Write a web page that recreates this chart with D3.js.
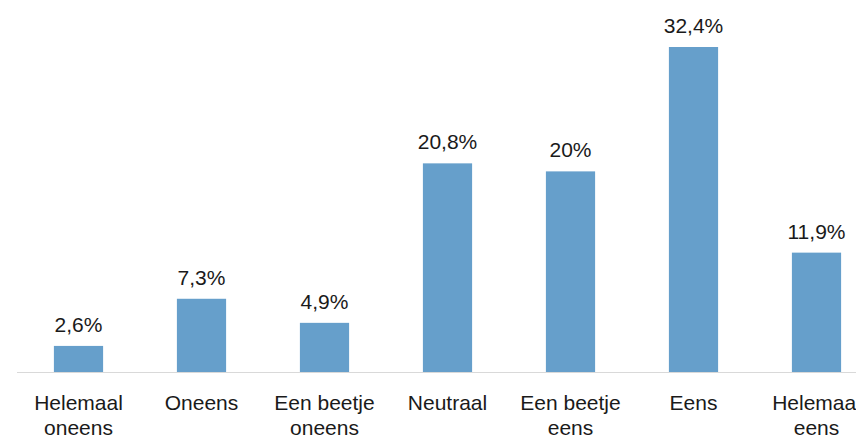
<!DOCTYPE html>
<html>
<head>
<meta charset="utf-8">
<script src="https://cdn.jsdelivr.net/npm/d3@7"></script>
<style>
  body { margin: 0; background: #fff; }
  svg { display: block; font-family: "Liberation Sans", Arial, sans-serif; }
</style>
</head>
<body>
<div class="chart"></div>
<script>
const categories = [
  ["Helemaal", "oneens"],
  ["Oneens"],
  ["Een beetje", "oneens"],
  ["Neutraal"],
  ["Een beetje", "eens"],
  ["Eens"],
  ["Helemaal", "eens"]
];
const values = [2.6, 7.3, 4.9, 20.8, 20, 32.4, 11.9];
const valueLabels = ["2,6%", "7,3%", "4,9%", "20,8%", "20%", "32,4%", "11,9%"];

const width = 856;
const height = 438;
const baseline = 372;

const svg = d3.select(".chart")
  .append("svg")
  .attr("width", width)
  .attr("height", height);

const x = d3.scaleBand()
  .domain(d3.range(values.length))
  .range([17, 878])
  .paddingInner(0.6)
  .paddingOuter(0.3);

const y = d3.scaleLinear()
  .domain([0, 32.4])
  .range([baseline, 47]);

svg.selectAll("rect.bar")
  .data(values)
  .enter()
  .append("rect")
  .attr("class", "bar")
  .attr("x", (d, i) => x(i))
  .attr("y", d => y(d))
  .attr("width", x.bandwidth())
  .attr("height", d => y(0) - y(d))
  .attr("fill", "#669fcb");

// baseline
svg.append("line")
  .attr("x1", 17)
  .attr("x2", width)
  .attr("y1", baseline + 0.5)
  .attr("y2", baseline + 0.5)
  .attr("stroke", "#d9d9d9")
  .attr("stroke-width", 1);

svg.selectAll("text.value")
  .data(values)
  .enter()
  .append("text")
  .attr("class", "value")
  .attr("x", (d, i) => x(i) + x.bandwidth() / 2)
  .attr("y", d => y(d) - 14)
  .attr("text-anchor", "middle")
  .attr("font-size", 21)
  .attr("fill", "#1a1a1a")
  .text((d, i) => valueLabels[i]);

const cat = svg.selectAll("text.cat")
  .data(categories)
  .enter()
  .append("text")
  .attr("class", "cat")
  .attr("text-anchor", "middle")
  .attr("font-size", 21)
  .attr("fill", "#1a1a1a");

cat.selectAll("tspan")
  .data((d, i) => d.map(t => ({ t, i })))
  .enter()
  .append("tspan")
  .attr("x", d => x(d.i) + x.bandwidth() / 2)
  .attr("y", (d, j) => 410 + j * 25)
  .text(d => d.t);
</script>
</body>
</html>
